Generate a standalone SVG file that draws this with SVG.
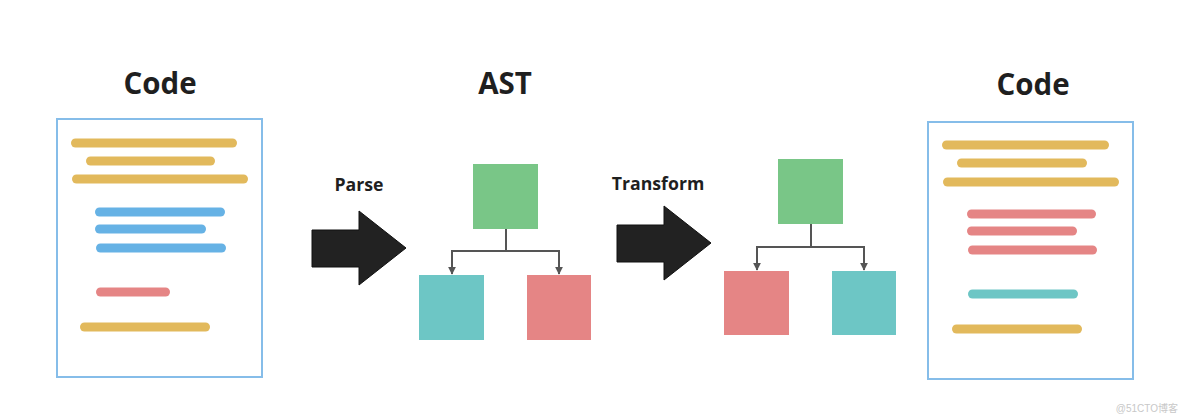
<svg xmlns="http://www.w3.org/2000/svg" width="1184" height="419" viewBox="0 0 1184 419">
<defs>
<style>
.title{font-family:"Open Sans","Liberation Sans",sans-serif;font-weight:bold;font-size:29.5px;fill:#1f1f1f;text-anchor:middle}
.lbl{font-family:"Open Sans","Liberation Sans",sans-serif;font-weight:bold;font-size:17.7px;fill:#1f1f1f;text-anchor:middle}
.doc{fill:#fff;stroke:#86bde9;stroke-width:2}
.ln{stroke-width:9;stroke-linecap:round;fill:none}
.y{stroke:#e2b95c}.b{stroke:#66b2e5}.r{stroke:#e58585}.t{stroke:#6dc6c5}
.green{fill:#79c687}.teal{fill:#6dc6c5}.red{fill:#e58585}
.con{stroke:#555;stroke-width:2;fill:none}
.big{fill:#222;stroke:#111;stroke-width:1}
.wm{font-family:"Liberation Sans","Noto Sans CJK SC",sans-serif;font-size:10px;fill:#c8c8c8;text-anchor:end}
</style>
<marker id="ah" viewBox="0 0 10 10" refX="9" refY="5" markerWidth="4" markerHeight="4" orient="auto" markerUnits="strokeWidth">
<path d="M0,0 L10,5 L0,10 z" fill="#555"/>
</marker>
</defs>
<rect width="1184" height="419" fill="#fff"/>

<g id="code-left">
<text class="title" x="160" y="94">Code</text>
<rect class="doc" x="57" y="119" width="205" height="258"/>
<line class="ln y" x1="75.5" y1="143" x2="232.5" y2="143"/>
<line class="ln y" x1="90.5" y1="161" x2="210.5" y2="161"/>
<line class="ln y" x1="76.5" y1="179" x2="243.5" y2="179"/>
<line class="ln b" x1="99.5" y1="212" x2="220.5" y2="212"/>
<line class="ln b" x1="99.5" y1="229" x2="201.5" y2="229"/>
<line class="ln b" x1="100.5" y1="248" x2="221.5" y2="248"/>
<line class="ln r" x1="100.5" y1="292" x2="165.5" y2="292"/>
<line class="ln y" x1="84.5" y1="327" x2="205.5" y2="327"/>
</g>

<g id="parse">
<text class="lbl" x="359" y="191">Parse</text>
<path class="big" d="M312,230 L359,230 L359,211 L406,248 L359,285 L359,267 L312,267 Z"/>
</g>

<g id="ast">
<text class="title" x="505" y="94">AST</text>
<rect id="ast-root" class="green" x="473" y="164" width="65" height="65"/>
<rect id="ast-left" class="teal" x="419" y="275" width="65" height="65"/>
<rect id="ast-right" class="red" x="527" y="275" width="64" height="65"/>
</g>

<g id="transform">
<text class="lbl" x="658" y="190">Transform</text>
<path class="big" d="M617,225 L664,225 L664,206 L711,243 L664,280 L664,262 L617,262 Z"/>
</g>

<g id="ast2">
<rect id="ast2-root" class="green" x="778" y="159" width="65" height="65"/>
<rect id="ast2-left" class="red" x="724" y="271" width="65" height="64"/>
<rect id="ast2-right" class="teal" x="832" y="271" width="64" height="64"/>
</g>

<g id="connectors">
<path class="con" d="M506,229 V251 M452,251 H559"/>
<path class="con" d="M452,250 V274" marker-end="url(#ah)"/>
<path class="con" d="M559,250 V274" marker-end="url(#ah)"/>
<path class="con" d="M811,224 V247 M757,247 H864"/>
<path class="con" d="M757,246 V270" marker-end="url(#ah)"/>
<path class="con" d="M864,246 V270" marker-end="url(#ah)"/>
</g>

<g id="code-right">
<text class="title" x="1033" y="95">Code</text>
<rect class="doc" x="928" y="122" width="205" height="257"/>
<line class="ln y" x1="946.5" y1="145" x2="1104.5" y2="145"/>
<line class="ln y" x1="961.5" y1="163" x2="1082.5" y2="163"/>
<line class="ln y" x1="947.5" y1="182" x2="1114.5" y2="182"/>
<line class="ln r" x1="971.5" y1="214" x2="1091.5" y2="214"/>
<line class="ln r" x1="971.5" y1="231" x2="1072.5" y2="231"/>
<line class="ln r" x1="972.5" y1="250" x2="1092.5" y2="250"/>
<line class="ln t" x1="972.5" y1="294" x2="1073.5" y2="294"/>
<line class="ln y" x1="956.5" y1="329" x2="1077.5" y2="329"/>
</g>

<text class="wm" x="1178" y="412">@51CTO博客</text>
</svg>
